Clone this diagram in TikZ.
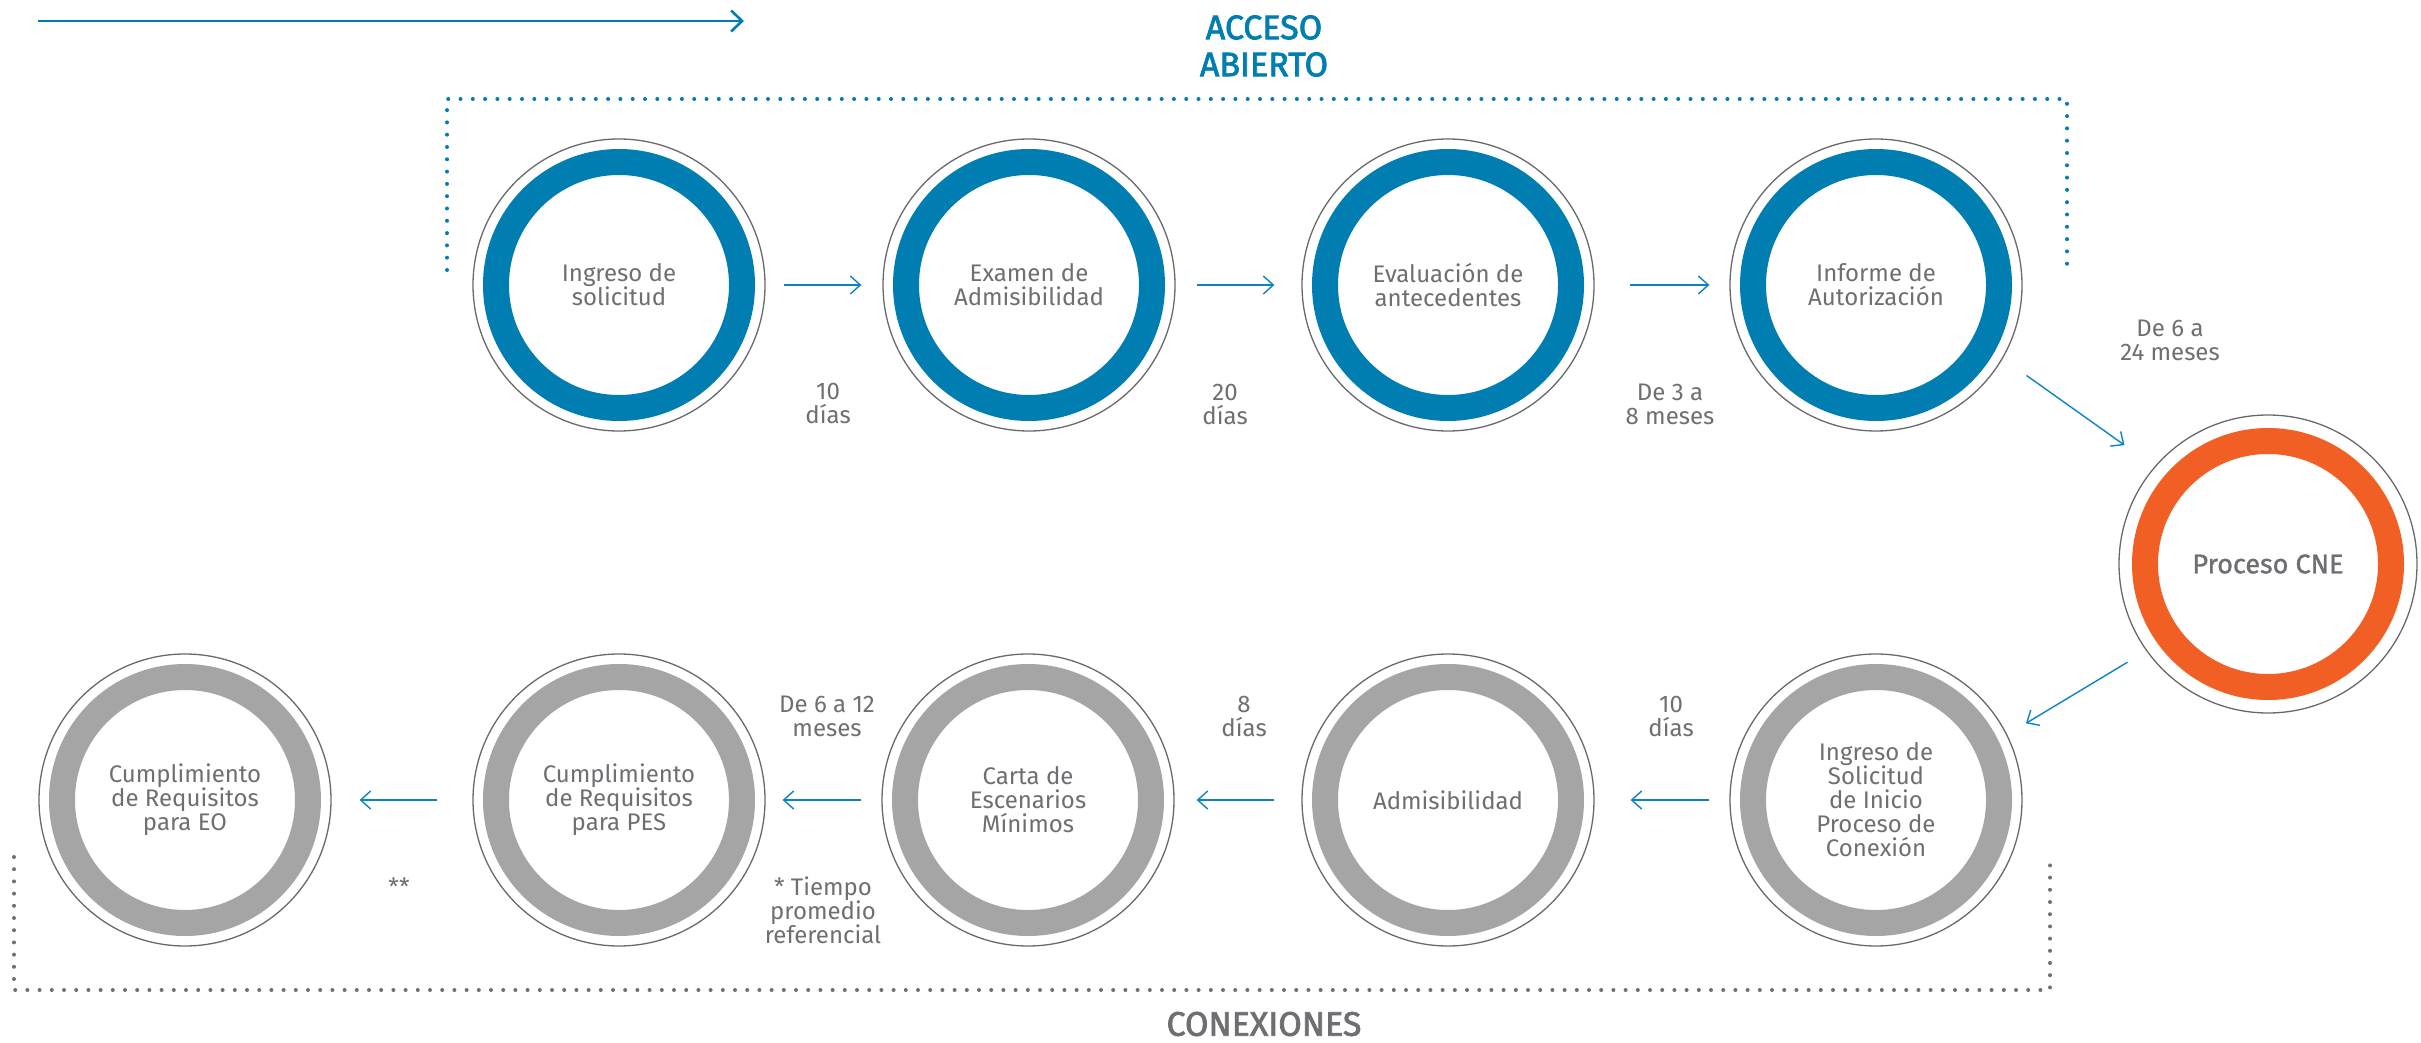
\documentclass[tikz,border=0pt]{standalone}
\usepackage{fontspec}
\setmainfont{Fira Sans}
\newfontfamily\medfont[FakeBold=1.2]{Fira Sans}
\newfontfamily\ttlfont[FakeBold=2.2]{Fira Sans}
\usetikzlibrary{arrows.meta,calc}
\definecolor{ablue}{RGB}{0,125,177}
\definecolor{aorange}{RGB}{241,95,36}
\definecolor{agray}{RGB}{165,165,166}
\definecolor{txtgray}{RGB}{110,111,114}
\definecolor{rimgray}{RGB}{105,105,105}
\definecolor{arrblue}{RGB}{10,132,196}
\definecolor{dotgray}{RGB}{112,112,114}
\begin{document}
\begin{tikzpicture}[x=1pt,y=-1pt,
  stage/.style={circle, draw=rimgray, line width=1.3pt, minimum size=292pt, inner sep=0pt,
    align=center, text=txtgray, font=\fontsize{24}{24}\selectfont,
    path picture={\draw[line width=26pt,#1] (path picture bounding box.center) circle[radius=123pt];}},
  lbl/.style={text=txtgray, align=center, font=\fontsize{24}{24}\selectfont, inner sep=0pt},
  arr/.style={draw=arrblue, line width=1.4pt, -{Straight Barb[length=10pt,width=18pt]}},
  toparr/.style={draw=ablue, line width=2.6pt, -{Straight Barb[length=11pt,width=21pt]}},
  bdots/.style={draw=ablue, line width=4pt, line cap=round, dash pattern=on 0pt off 12.3pt},
  gdots/.style={draw=dotgray, line width=4pt, line cap=round, dash pattern=on 0pt off 12.2pt},
  title/.style={align=center, font=\ttlfont\fontsize{34}{37}\selectfont, inner sep=0pt}]
\useasboundingbox[fill=white] (0,0) rectangle (2421,1043);

% top long arrow
\coordinate (ts) at (38,21);
\coordinate (te) at (744,21);
\draw[toparr] (ts) -- (te);

% titles
\node[title, text=ablue] (acc) at (1264,46) {ACCESO\\ABIERTO};
\node[title, text=txtgray] (con) at (1264,1024) {CONEXIONES};

% dotted brackets
\coordinate (bl1) at (447,270);
\coordinate (bl2) at (447,99);
\coordinate (bl3) at (2067,99);
\coordinate (bl4) at (2067,275);
\draw[bdots] (bl1) -- (bl2) -- (bl3) -- (bl4);
\coordinate (gl1) at (14,857);
\coordinate (gl2) at (14,990);
\coordinate (gl3) at (2050,990);
\coordinate (gl4) at (2050,862);
\draw[gdots] (gl1) -- (gl2) -- (gl3) -- (gl4);

% top row
\node[stage=ablue] (a1) at (619,285) {Ingreso de\\solicitud};
\node[stage=ablue] (a2) at (1029,285) {Examen de\\Admisibilidad};
\node[stage=ablue] (a3) at (1448,285) {Evaluación de\\antecedentes};
\node[stage=ablue] (a4) at (1876,285) {Informe de\\Autorización};
\node[stage=aorange, minimum size=298pt, font=\medfont\fontsize{27}{30}\selectfont] (cne) at (2268,564) {Proceso CNE};

% bottom row
\node[stage=agray] (b1) at (1876,800) {Ingreso de\\Solicitud\\de Inicio\\Proceso de\\Conexión};
\node[stage=agray] (b2) at (1448,800) {Admisibilidad};
\node[stage=agray] (b3) at (1028,800) {Carta de\\Escenarios\\Mínimos};
\node[stage=agray] (b4) at (619,800) {Cumplimiento\\de Requisitos\\para PES};
\node[stage=agray] (b5) at (185,800) {Cumplimiento\\de Requisitos\\para EO};

% arrows top
\draw[arr, shorten <=18pt, shorten >=21pt] (a1) -- (a2);
\draw[arr, shorten <=21pt, shorten >=27pt] (a2) -- (a3);
\draw[arr, shorten <=35pt, shorten >=20pt] (a3) -- (a4);
\draw[arr, shorten <=175pt, shorten >=186pt] ([shift={(8,-11)}]a4.center) -- ([shift={(8,-11)}]cne.center);
\draw[arr, shorten <=171pt, shorten >=168pt] ([shift={(6,10)}]cne.center) -- ([shift={(6,10)}]b1.center);
% arrows bottom
\draw[arr, shorten <=20pt, shorten >=36pt] (b1) -- (b2);
\draw[arr, shorten <=27pt, shorten >=22pt] (b2) -- (b3);
\draw[arr, shorten <=20pt, shorten >=17pt] (b3) -- (b4);
\draw[arr, shorten <=35pt, shorten >=28pt] (b4) -- (b5);

% labels
\node[lbl] (l1) at (828,403) {10\\días};
\node[lbl] (l2) at (1225,404) {20\\días};
\node[lbl] (l3) at (1670,404) {De 3 a\\8 meses};
\node[lbl] (l4) at (2170,340) {De 6 a\\24 meses};
\node[lbl] (l5) at (1671,716) {10\\días};
\node[lbl] (l6) at (1244,716) {8\\días};
\node[lbl] (l7) at (827,716) {De 6 a 12\\meses};
\node[lbl] (l8) at (823,910) {* Tiempo\\promedio\\referencial};
\node[lbl] (l9) at (399,887) {**};
\end{tikzpicture}
\end{document}
